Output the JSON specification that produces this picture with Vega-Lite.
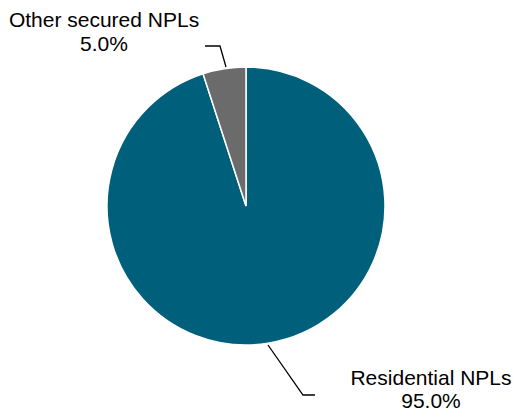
{
  "$schema": "https://vega.github.io/schema/vega-lite/v6.json",
  "width": 513,
  "height": 414,
  "padding": 0,
  "autosize": "none",
  "background": "white",
  "config": {"view": {"stroke": null}},
  "datasets": {
    "shares": [
      {"category": "Residential NPLs", "share": 95.0, "order": 1},
      {"category": "Other secured NPLs", "share": 5.0, "order": 2}
    ],
    "leaders": [
      {"category": "Other secured NPLs", "step": 1, "px": -20, "py": 139},
      {"category": "Other secured NPLs", "step": 2, "px": -26, "py": 160},
      {"category": "Other secured NPLs", "step": 3, "px": -41, "py": 160},
      {"category": "Residential NPLs", "step": 1, "px": 22, "py": -139},
      {"category": "Residential NPLs", "step": 2, "px": 57, "py": -189},
      {"category": "Residential NPLs", "step": 3, "px": 69, "py": -189}
    ],
    "labels": [
      {"text": "Other secured NPLs", "px": -142, "py": 179},
      {"text": "5.0%", "px": -142, "py": 155},
      {"text": "Residential NPLs", "px": 185, "py": -179},
      {"text": "95.0%", "px": 185, "py": -202}
    ]
  },
  "layer": [
    {
      "data": {"name": "shares"},
      "mark": {"type": "arc", "outerRadius": 139, "stroke": "white", "strokeWidth": 1.5},
      "encoding": {
        "theta": {"field": "share", "type": "quantitative", "stack": true},
        "order": {"field": "order", "type": "quantitative"},
        "x": {"datum": 0, "type": "quantitative", "scale": {"domain": [-246, 267]}, "axis": null},
        "y": {"datum": 0, "type": "quantitative", "scale": {"domain": [-208, 206]}, "axis": null},
        "color": {
          "field": "category",
          "type": "nominal",
          "scale": {"domain": ["Residential NPLs", "Other secured NPLs"], "range": ["#005F7A", "#6B6B6B"]},
          "legend": null
        }
      }
    },
    {
      "data": {"name": "leaders"},
      "mark": {"type": "line", "color": "black", "strokeWidth": 1.3},
      "encoding": {
        "x": {"field": "px", "type": "quantitative", "scale": {"domain": [-246, 267]}, "axis": null},
        "y": {"field": "py", "type": "quantitative", "scale": {"domain": [-208, 206]}, "axis": null},
        "detail": {"field": "category"},
        "order": {"field": "step", "type": "quantitative"}
      }
    },
    {
      "data": {"name": "labels"},
      "mark": {"type": "text", "font": "Liberation Sans", "fontSize": 21, "color": "black", "align": "center", "baseline": "alphabetic"},
      "encoding": {
        "x": {"field": "px", "type": "quantitative", "scale": {"domain": [-246, 267]}, "axis": null},
        "y": {"field": "py", "type": "quantitative", "scale": {"domain": [-208, 206]}, "axis": null},
        "text": {"field": "text"}
      }
    }
  ],
  "resolve": {"scale": {"color": "independent"}}
}
